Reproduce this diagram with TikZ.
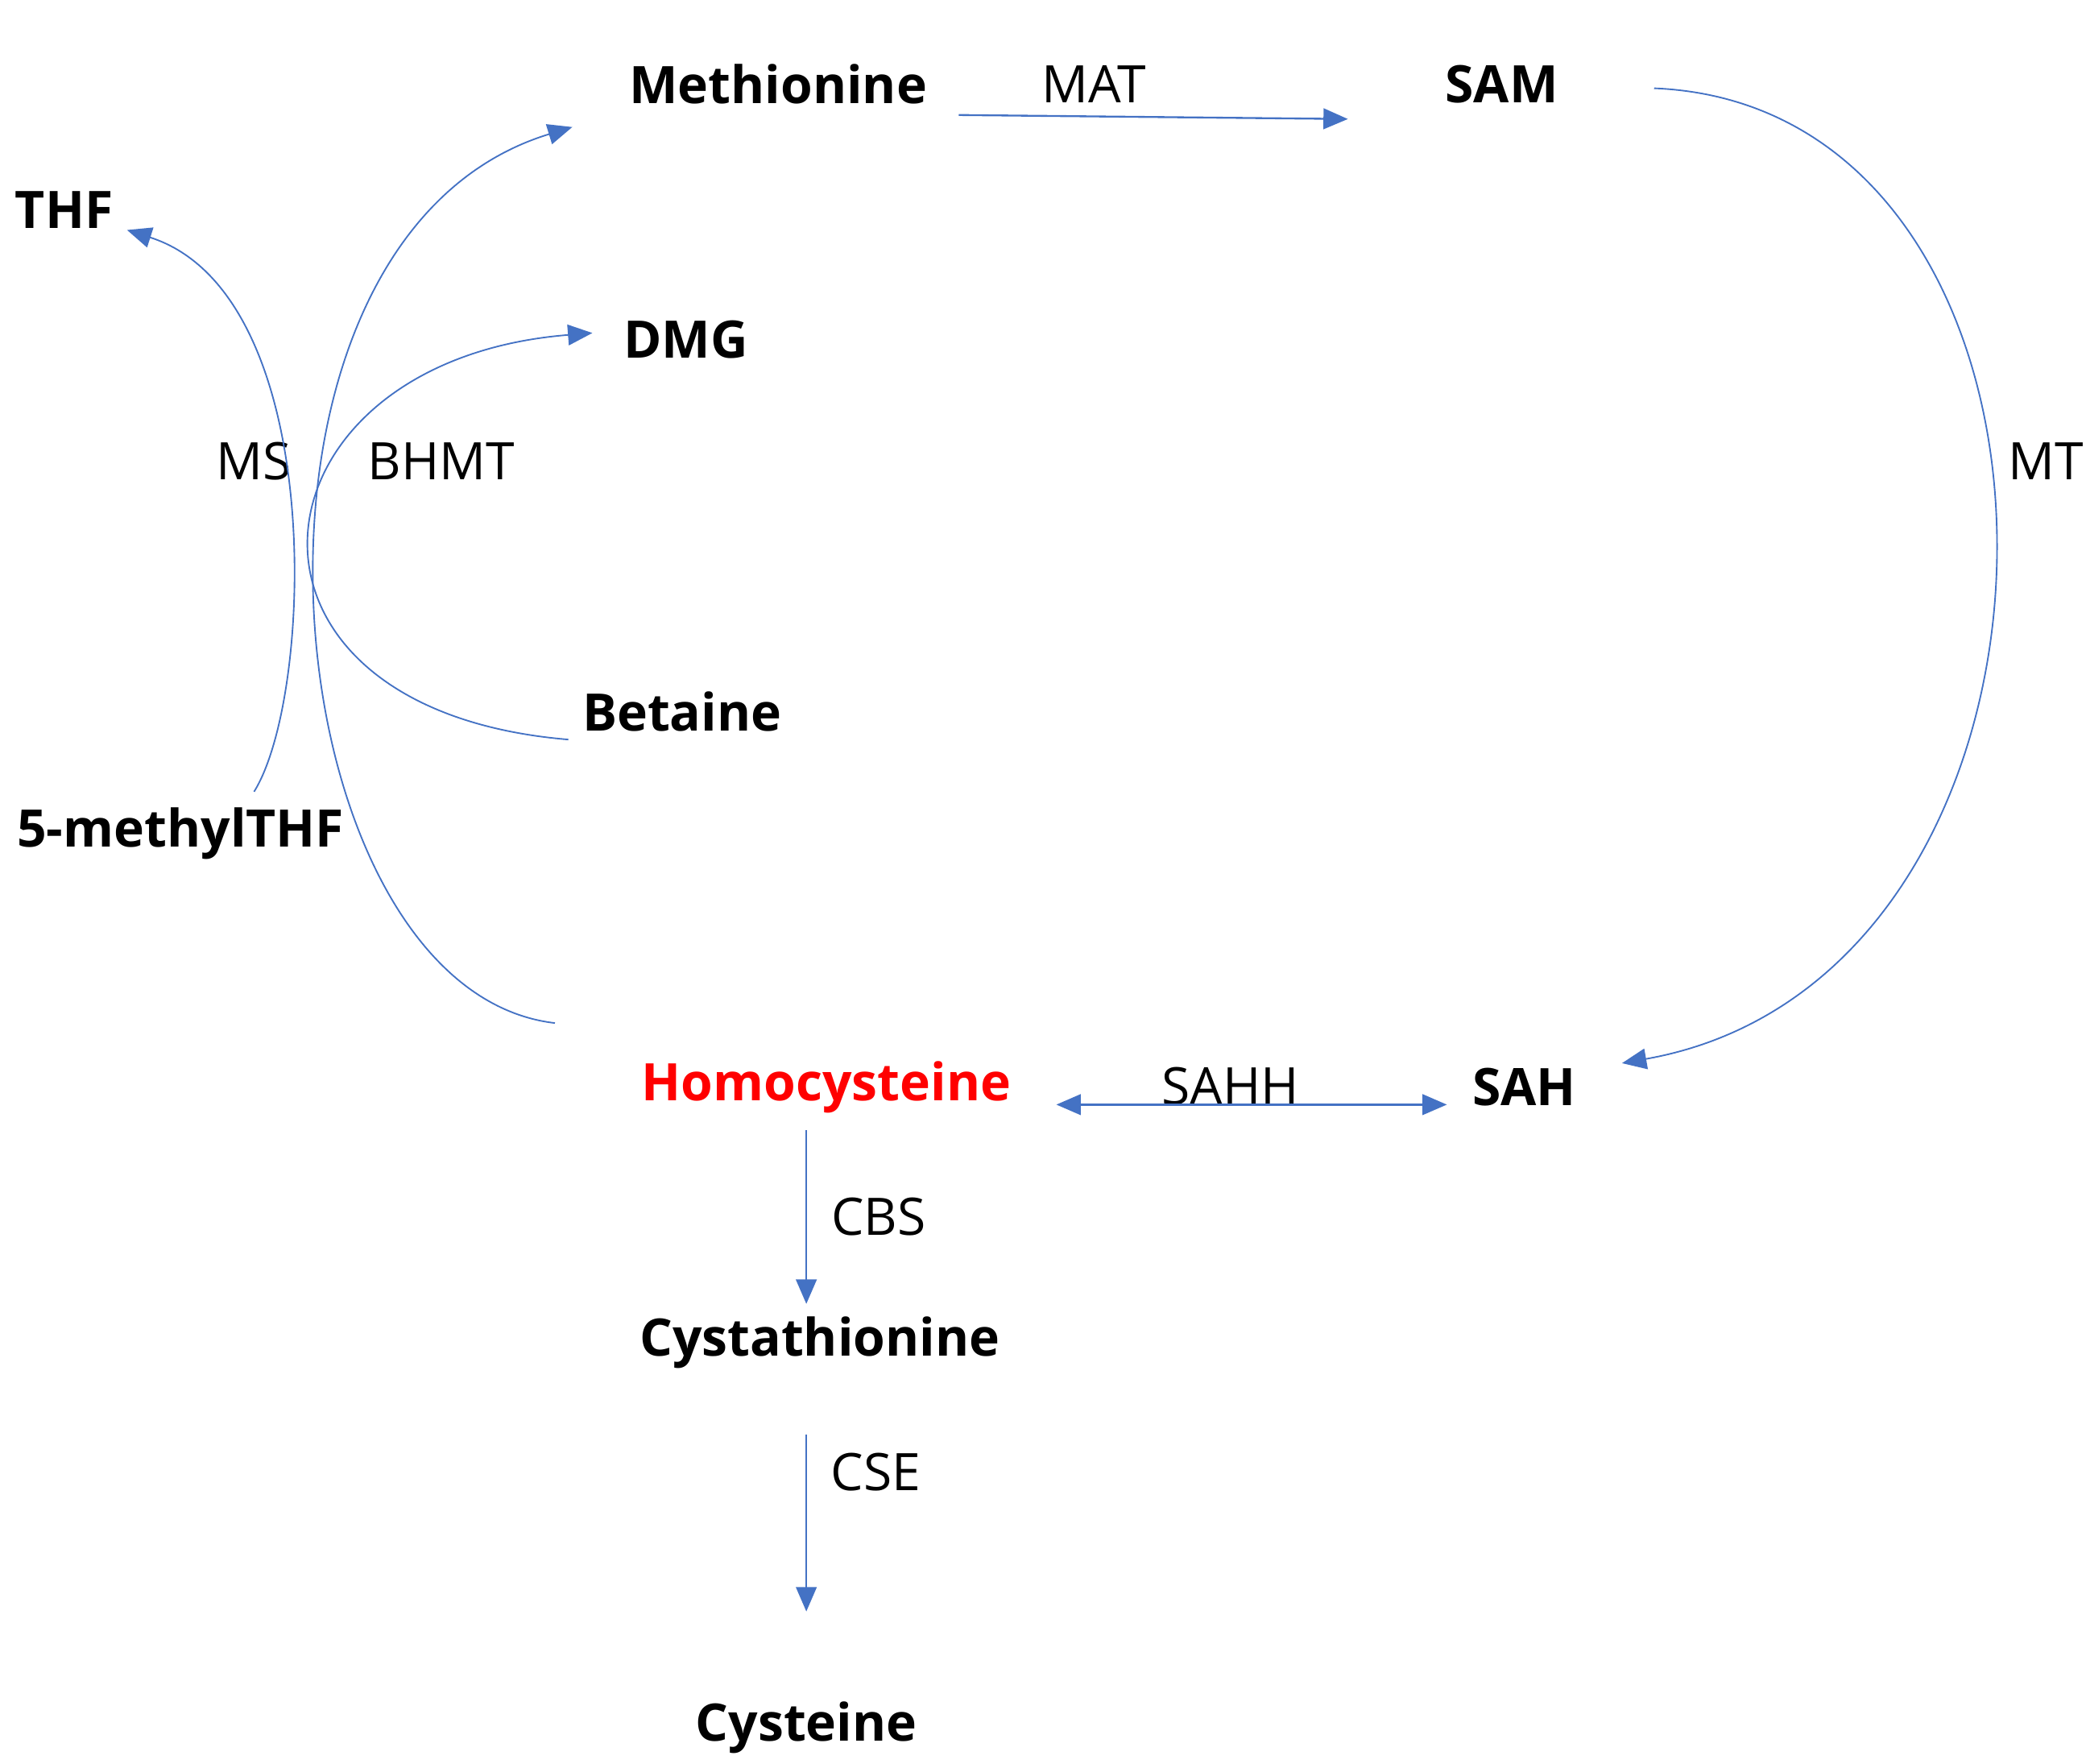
\documentclass[tikz,border=0pt]{standalone}
\usepackage{fontspec}
\setmainfont{Open Sans}
\usetikzlibrary{arrows.meta}
\definecolor{arr}{RGB}{68,114,196}
\begin{document}
\begin{tikzpicture}[x=0.05cm,y=-0.05cm,
  mol/.style={font=\fontsize{55}{66}\selectfont\bfseries,inner sep=0pt},
  enz/.style={font=\fontsize{55}{66}\selectfont,inner sep=0pt},
  con/.style={draw=arr,line width=2pt,-{Triangle[length=26pt,width=22pt]}},
  curv/.style={draw=arr,line width=1.6pt,-{Triangle[length=26pt,width=22pt]}}]
\useasboundingbox (0,0) rectangle (1560,1319);
\node[mol] (met) at (582,63) {Methionine};
\node[mol] (sam) at (1123,63) {SAM};
\node[mol] (thf) at (48,157) {THF};
\node[mol] (dmg) at (513,254) {DMG};
\node[mol] (bet) at (510,532) {Betaine};
\node[mol] (mthf) at (135,623) {5-methylTHF};
\node[mol,text=red] (hcy) at (618,813) {Homocysteine};
\node[mol] (sah) at (1140,813) {SAH};
\node[mol] (cys) at (613,1004) {Cystathionine};
\node[mol] (cyst) at (603,1292) {Cysteine};
\node[enz] (mat) at (818,63) {MAT};
\node[enz] (mt) at (1530,345) {MT};
\node[enz] (ms) at (190,345) {MS};
\node[enz] (bhmt) at (330,345) {BHMT};
\node[enz] (sahh) at (920,812) {SAHH};
\node[enz] (cbs) at (657,910) {CBS};
\node[enz] (cse) at (655,1101) {CSE};
\coordinate (a1) at (717,86); \coordinate (a2) at (1008,89);
\coordinate (b1) at (1237,66); \coordinate (b2) at (1213,795);
\coordinate (c1) at (415,765); \coordinate (c2) at (428,95);
\coordinate (d1) at (190,592); \coordinate (d2) at (95,172);
\coordinate (e1) at (425,553); \coordinate (e2) at (443,249);
\coordinate (f1) at (790,826); \coordinate (f2) at (1082,826);
\coordinate (g1) at (603,845); \coordinate (g2) at (603,975);
\coordinate (h1) at (603,1073); \coordinate (h2) at (603,1205);
\draw[con] (a1) -- (a2);
\draw[curv] (b1) .. controls (1580,80) and (1580,730) .. (b2);
\draw[curv] (c1) .. controls (200,740) and (150,180) .. (c2);
\draw[curv] (d1) .. controls (235,520) and (245,220) .. (d2);
\draw[curv] (e1) .. controls (150,530) and (180,270) .. (e2);
\draw[con,{Triangle[length=26pt,width=22pt]}-{Triangle[length=26pt,width=22pt]}] (f1) -- (f2);
\draw[con] (g1) -- (g2);
\draw[con] (h1) -- (h2);
\end{tikzpicture}
\end{document}
